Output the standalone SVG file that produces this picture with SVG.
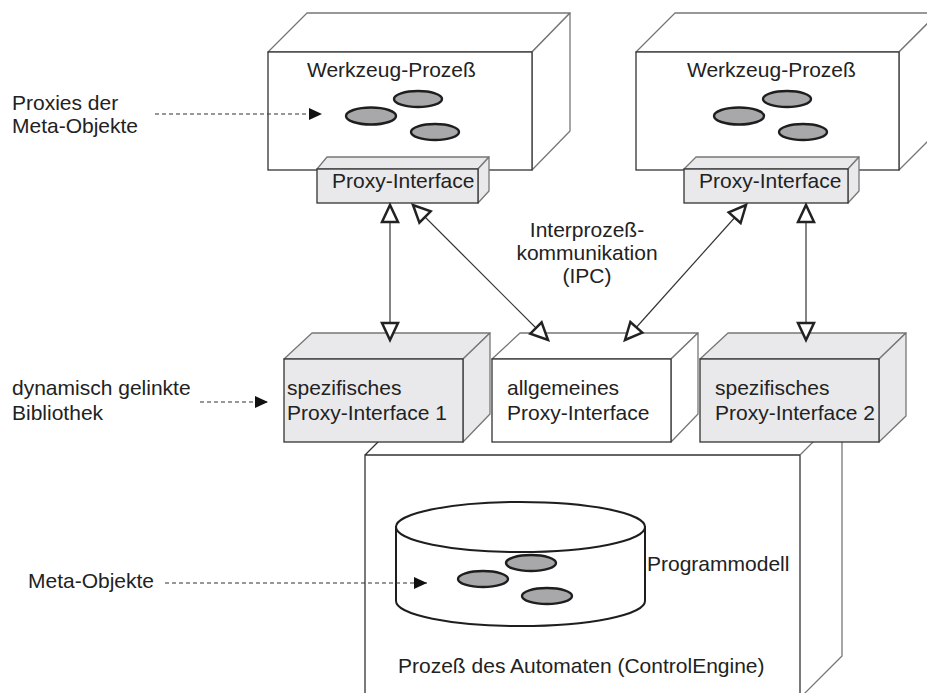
<svg xmlns="http://www.w3.org/2000/svg" width="927" height="693" viewBox="0 0 927 693">
  <style>
    text { font-family: "Liberation Sans", Arial, sans-serif; font-size: 21px; fill: #222; }
    .front { stroke: #333; stroke-width: 1.3; }
    .back { stroke: #777; stroke-width: 1.3; stroke-linejoin: round; }
    .white { fill: #fff; }
    .grey { fill: #e9e9eb; }
    .obj { fill: #a8a8ab; stroke: #1e1e1e; stroke-width: 2.4; }
    .edge { fill: none; stroke: #333; stroke-width: 1.2; }
    .dash { fill: none; stroke: #333; stroke-width: 1.2; stroke-dasharray: 4 3; }
  </style>
  <defs>
    <marker id="open" viewBox="0 0 22 20" refX="19" refY="10" markerWidth="22" markerHeight="20" markerUnits="userSpaceOnUse" orient="auto-start-reverse">
      <path d="M2,2 L19,10 L2,18 Z" fill="#fff" stroke="#222" stroke-width="2.5" stroke-linejoin="miter"/>
    </marker>
    <marker id="solid" viewBox="0 0 14 12" refX="13" refY="6" markerWidth="14" markerHeight="12" markerUnits="userSpaceOnUse" orient="auto">
      <path d="M0,0 L13,6 L0,12 Z" fill="#111"/>
    </marker>
  </defs>

  <rect width="927" height="693" fill="#fff"/>

  <!-- process of the automaton: large box behind the library row -->
  <g id="engine">
    <path class="front" fill="none" d="M365,698 V455 H800 V698 M365,455 L407,413"/>
    <path class="back" fill="none" d="M800,455 L842,413 V656 L800,698"/>
    <text x="398" y="673">Prozeß des Automaten (ControlEngine)</text>
  </g>

  <!-- program model cylinder -->
  <g id="programmodell">
    <path d="M396,527 V601 A124.5,25 0 0 0 645,601 V527 Z" fill="#fff" stroke="#1e1e1e" stroke-width="2"/>
    <ellipse cx="520.5" cy="527" rx="124.5" ry="25" fill="#fff" stroke="#1e1e1e" stroke-width="2"/>
    <ellipse class="obj" cx="483" cy="579" rx="25" ry="8"/>
    <ellipse class="obj" cx="531" cy="563" rx="25" ry="8"/>
    <ellipse class="obj" cx="547" cy="596" rx="25" ry="8"/>
    <text x="647" y="571">Programmodell</text>
  </g>

  <!-- tool process, left -->
  <g id="tool1">
    <polygon class="back white" points="268,52 307,13 570,13 532,52"/>
    <polygon class="back white" points="532,52 570,13 570,131 532,170"/>
    <rect class="front white" x="268" y="52" width="264" height="118"/>
    <text x="307" y="77">Werkzeug-Prozeß</text>
    <ellipse class="obj" cx="371" cy="116" rx="25" ry="8.5"/>
    <ellipse class="obj" cx="418" cy="99" rx="24" ry="8"/>
    <ellipse class="obj" cx="435" cy="132" rx="24" ry="8"/>
  </g>

  <!-- tool process, right -->
  <g id="tool2">
    <polygon class="back white" points="636,52 675,13 938,13 899,52"/>
    <polygon class="back white" points="899,52 938,13 938,131 899,170"/>
    <rect class="front white" x="636" y="52" width="263" height="118"/>
    <text x="687" y="77">Werkzeug-Prozeß</text>
    <ellipse class="obj" cx="739" cy="116" rx="25" ry="8.5"/>
    <ellipse class="obj" cx="787" cy="99" rx="24" ry="8"/>
    <ellipse class="obj" cx="803" cy="132" rx="24" ry="8"/>
  </g>

  <!-- proxy interfaces of the tools -->
  <g id="proxy1">
    <polygon class="back grey" points="317,169 327,157 489,157 478,169"/>
    <polygon class="back grey" points="478,169 489,157 489,191 478,203"/>
    <rect class="front grey" x="317" y="169" width="161" height="34"/>
    <text x="332" y="188">Proxy-Interface</text>
  </g>
  <g id="proxy2">
    <polygon class="back grey" points="684,169 696,157 859,157 848,169"/>
    <polygon class="back grey" points="848,169 859,157 859,191 848,203"/>
    <rect class="front grey" x="684" y="169" width="164" height="34"/>
    <text x="699" y="188">Proxy-Interface</text>
  </g>

  <!-- dynamically linked libraries -->
  <g id="spec1">
    <polygon class="back grey" points="284,359 312,333 490,333 463,359"/>
    <polygon class="back grey" points="463,359 490,333 490,414 463,442"/>
    <rect class="front grey" x="284" y="359" width="179" height="83"/>
    <text x="287" y="395">spezifisches</text>
    <text x="287" y="420">Proxy-Interface 1</text>
  </g>
  <g id="general">
    <polygon class="back white" points="492,359 520,333 698,333 671,359"/>
    <polygon class="back white" points="671,359 698,333 698,414 671,442"/>
    <rect class="front white" x="492" y="359" width="179" height="83"/>
    <text x="507" y="395">allgemeines</text>
    <text x="507" y="420">Proxy-Interface</text>
  </g>
  <g id="spec2">
    <polygon class="back grey" points="700,359 728,333 906,333 879,359"/>
    <polygon class="back grey" points="879,359 906,333 906,416 879,442"/>
    <rect class="front grey" x="700" y="359" width="179" height="83"/>
    <text x="715" y="395">spezifisches</text>
    <text x="715" y="420">Proxy-Interface 2</text>
  </g>

  <!-- IPC label -->
  <g id="ipc">
    <text x="587" y="237" text-anchor="middle">Interprozeß-</text>
    <text x="587" y="260" text-anchor="middle">kommunikation</text>
    <text x="587" y="283" text-anchor="middle">(IPC)</text>
  </g>

  <!-- annotations on the left -->
  <g id="note-proxies">
    <text x="12" y="110">Proxies der</text>
    <text x="12" y="133">Meta-Objekte</text>
  </g>
  <g id="note-library">
    <text x="12" y="395">dynamisch gelinkte</text>
    <text x="12" y="420">Bibliothek</text>
  </g>
  <g id="note-meta">
    <text x="28" y="588">Meta-Objekte</text>
  </g>

  <!-- connectors -->
  <g id="connectors">
    <line class="edge" x1="390" y1="205" x2="390" y2="340" marker-start="url(#open)" marker-end="url(#open)"/>
    <line class="edge" x1="413" y1="205" x2="548" y2="340" marker-start="url(#open)" marker-end="url(#open)"/>
    <line class="edge" x1="746" y1="205" x2="625" y2="340" marker-start="url(#open)" marker-end="url(#open)"/>
    <line class="edge" x1="806" y1="205" x2="806" y2="340" marker-start="url(#open)" marker-end="url(#open)"/>
    <line class="dash" x1="155" y1="114" x2="322" y2="114" marker-end="url(#solid)"/>
    <line class="dash" x1="200" y1="402" x2="268" y2="402" marker-end="url(#solid)"/>
    <line class="dash" x1="165" y1="583" x2="427" y2="583" marker-end="url(#solid)"/>
  </g>
</svg>
